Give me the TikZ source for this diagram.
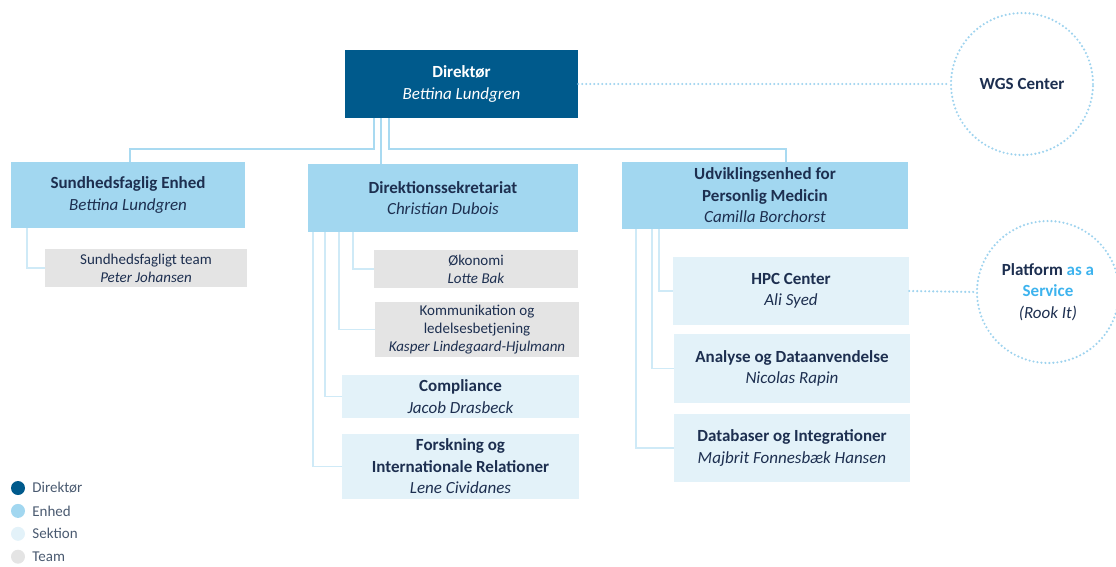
\documentclass[tikz,border=0pt]{standalone}
\usepackage{fontspec}
\setmainfont{Carlito}
\usetikzlibrary{positioning}
\definecolor{dirblue}{HTML}{005A8C}
\definecolor{enhblue}{HTML}{A2D7F0}
\definecolor{sekblue}{HTML}{E3F2F9}
\definecolor{teamgray}{HTML}{E4E4E4}
\definecolor{navy}{HTML}{1D2F50}
\definecolor{linkblue}{HTML}{A9DAF1}
\definecolor{sublink}{HTML}{CFEAF7}
\definecolor{dotblue}{HTML}{9ED3EE}
\definecolor{skyblue}{HTML}{3DB3EE}
\definecolor{leggray}{HTML}{4A5A70}
\tikzset{
box/.style={rectangle, inner sep=0pt, align=center, text=navy, font=\fontsize{17}{21.5}\selectfont},
direktor/.style={box, fill=dirblue, text=white},
enhed/.style={box, fill=enhblue},
sektion/.style={box, fill=sekblue},
team/.style={box, fill=teamgray, font=\fontsize{15}{18}\selectfont},
conn/.style={draw=linkblue, line width=2.5pt},
subconn/.style={draw=sublink, line width=1.6pt},
dots/.style={draw=dotblue, line width=2.4pt, line cap=round, dash pattern=on 0pt off 4pt},
ring/.style={circle, dots, minimum size=142pt, inner sep=0pt, align=center, text=navy, font=\fontsize{17}{21.5}\selectfont},
legdot/.style={circle, minimum size=14pt, inner sep=0pt},
legtext/.style={text=leggray, font=\fontsize{15}{17}\selectfont, inner sep=0pt, anchor=west},
}
\newcommand{\who}[2]{\textbf{#1}\\\textit{#2}}

\begin{document}
\begin{tikzpicture}[x=1pt, y=-1pt]
\useasboundingbox (0,0) rectangle (1116,566);

    % top level
    \node[direktor, minimum width=233pt, minimum height=68pt] (dir) at (461.5,84) {\who{Direktør}{Bettina Lundgren}};
    \node[ring] (wgs) at (1022,84) {\textbf{WGS Center}};

    % units
    \node[enhed, minimum width=234pt, minimum height=66pt] (sund) at (128,195) {\who{Sundhedsfaglig Enhed}{Bettina Lundgren}};
    \node[enhed, minimum width=270pt, minimum height=68pt] (sekr) at (443,198) {\who{Direktionssekretariat}{Christian Dubois}};
    \node[enhed, minimum width=286pt, minimum height=67pt] (udv) at (765,195.5) {\textbf{Udviklingsenhed for}\\\who{Personlig Medicin}{Camilla Borchorst}};

    % teams and sections
    \node[team, minimum width=202pt, minimum height=38pt] (sundteam) at (146,268) {Sundhedsfagligt team\\\textit{Peter Johansen}};
    \node[team, minimum width=204pt, minimum height=38pt] (okon) at (476,269) {Økonomi\\\textit{Lotte Bak}};
    \node[team, minimum width=204pt, minimum height=55pt] (komm) at (477,329.5) {Kommunikation og\\ledelsesbetjening\\\textit{Kasper Lindegaard-Hjulmann}};
    \node[sektion, minimum width=237pt, minimum height=43pt] (compl) at (460.5,396.5) {\who{Compliance}{Jacob Drasbeck}};
    \node[sektion, minimum width=237pt, minimum height=65pt] (forsk) at (460.5,466.5) {\textbf{Forskning og}\\\who{Internationale Relationer}{Lene Cividanes}};
    \node[sektion, minimum width=236pt, minimum height=68pt] (hpc) at (791,291) {\who{HPC Center}{Ali Syed}};
    \node[sektion, minimum width=236pt, minimum height=69pt] (analyse) at (792,368.5) {\who{Analyse og Dataanvendelse}{Nicolas Rapin}};
    \node[sektion, minimum width=236pt, minimum height=68pt] (datab) at (792,448) {\who{Databaser og Integrationer}{Majbrit Fonnesbæk Hansen}};
    \node[ring] (paas) at (1048,292) {\textbf{Platform \textcolor{skyblue}{as a}}\\\textbf{\textcolor{skyblue}{Service}}\\\textit{(Rook It)}};

    % connectors
    \draw[conn] ([xshift=29pt]dir.south west) -- ++(0pt,-31pt) -| ([xshift=2pt]sund.north);
    \draw[conn] ([xshift=36pt]dir.south west) -- ++(0pt,-46pt);
    \draw[conn] ([xshift=44pt]dir.south west) -- ++(0pt,-31pt) -| ([xshift=21pt]udv.north);
    \draw[dots] (dir.east) -- (wgs.west);
    \draw[dots] (hpc.east) -- (paas.west);

    \draw[subconn] ([xshift=16pt]sund.south west) |- (sundteam.west);
    \draw[subconn] ([xshift=45pt]sekr.south west) |- (okon.west);
    \draw[subconn] ([xshift=31pt]sekr.south west) |- (komm.west);
    \draw[subconn] ([xshift=17pt]sekr.south west) |- (compl.west);
    \draw[subconn] ([xshift=5pt]sekr.south west) |- (forsk.west);
    \draw[subconn] ([xshift=37pt]udv.south west) |- (hpc.west);
    \draw[subconn] ([xshift=30pt]udv.south west) |- (analyse.west);
    \draw[subconn] ([xshift=14pt]udv.south west) |- (datab.west);

    % legend
    \node[legdot, fill=dirblue] (ldir) at (18,488) {};
    \node[legdot, fill=enhblue, below=8.5pt of ldir] (lenh) {};
    \node[legdot, fill=sekblue, below=8.5pt of lenh] (lsek) {};
    \node[legdot, fill=teamgray, below=8.5pt of lsek] (lteam) {};
    \node[legtext, right=7pt of ldir] {Direktør};
    \node[legtext, right=7pt of lenh] {Enhed};
    \node[legtext, right=7pt of lsek] {Sektion};
    \node[legtext, right=7pt of lteam] {Team};
\end{tikzpicture}
\end{document}
